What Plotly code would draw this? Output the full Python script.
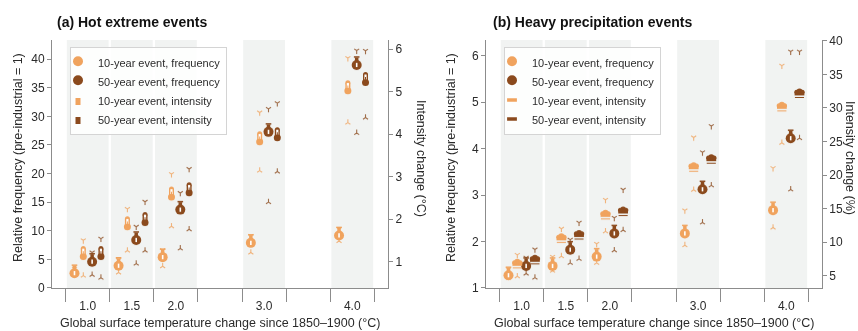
import plotly.graph_objects as go

# ---------------- data ----------------
levels = [1.0, 1.5, 2.0, 3.0, 4.0]
level_labels = ["1.0", "1.5", "2.0", "3.0", "4.0"]

# (a) Hot extremes
hot_f10 = [2.8, 4.1, 5.6, 8.1, 9.4]
hot_f10_lo = [2.3, 2.7, 3.8, 6.2, 8.2]
hot_f10_hi = [3.4, 4.9, 6.6, 9.1, 10.3]
hot_f50 = [4.8, 8.6, 13.9, 27.5, 39.2]
hot_f50_lo = [2.3, 4.25, 6.9, 15.0, 27.1]
hot_f50_hi = [6.2, 10.7, 16.6, 31.3, 41.5]
hot_i10 = [1.2, 1.9, 2.6, 3.9, 5.1]
hot_i10_lo = [0.67, 1.26, 1.83, 3.14, 4.27]
hot_i10_hi = [1.50, 2.24, 3.06, 4.51, 5.79]
hot_i50 = [1.2, 2.0, 2.7, 4.0, 5.3]
hot_i50_lo = [0.62, 1.26, 1.76, 3.12, 4.39]
hot_i50_hi = [1.54, 2.41, 3.18, 4.73, 5.96]

# (b) Heavy precipitation
pr_f10 = [1.3, 1.5, 1.7, 2.2, 2.7]
pr_f10_lo = [1.22, 1.37, 1.54, 1.92, 2.30]
pr_f10_hi = [1.40, 1.67, 1.95, 2.67, 3.58]
pr_f50 = [1.5, 1.85, 2.2, 3.15, 4.25]
pr_f50_lo = [1.31, 1.54, 1.81, 2.41, 3.12]
pr_f50_hi = [1.65, 2.04, 2.51, 3.92, 6.09]
pr_i10 = [6.8, 10.6, 14.1, 21.2, 30.2]
pr_i10_lo = [4.9, 7.9, 11.6, 17.8, 24.8]
pr_i10_hi = [8.1, 12.0, 16.3, 25.6, 36.3]
pr_i50 = [7.4, 11.1, 14.6, 22.4, 32.2]
pr_i50_lo = [4.7, 7.5, 11.8, 18.45, 25.5]
pr_i50_hi = [8.9, 12.9, 17.8, 27.3, 38.4]

names = ["10-year event, frequency", "50-year event, frequency",
         "10-year event, intensity", "50-year event, intensity"]

# ---------------- style ----------------
FONT = "Liberation Sans Narrow, Arial Narrow, Liberation Sans, Arial, sans-serif"
LIGHT = "#F0A35E"
DARK = "#8B4A1D"
BAND = "#F1F3F2"
AXIS = "#8C8C8C"
TEXT = "#2B2B2B"
BAND_HALF = 0.237
OFFSETS = {"f10": -0.15, "i10": -0.05, "f50": 0.05, "i50": 0.15}


def part(symbol, size, color, lw=0, angle=0, standoff=0):
    return dict(symbol=symbol, size=size, color=color, lw=lw, angle=angle, standoff=standoff)


def stopwatch(c):
    return [
        part("circle", 10, c, angle=0, standoff=1.2),
        part("square", 3.5, c, angle=180, standoff=4.5),
        part("line-ew", 4, c, lw=1.5, angle=180, standoff=6.8),
        part("line-ns", 3, "white", lw=1.6, angle=0, standoff=1.2),
    ]


def thermometer(c):
    return [
        part("line-ns", 5, c, lw=5, angle=180, standoff=1),
        part("circle", 5, c, angle=180, standoff=4.5),
        part("circle", 7, c, angle=0, standoff=3.5),
        part("line-ns", 3.5, "white", lw=2.2, angle=180, standoff=2),
        part("line-ns", 2, c, lw=1, angle=180, standoff=0.5),
    ]


def cloud(c):
    return [
        part("line-ew", 7, c, lw=3.5, angle=0, standoff=0.5),
        part("circle", 6, c, angle=180, standoff=1.8),
        part("circle", 4.5, c, angle=110, standoff=3.2),
        part("circle", 4.5, c, angle=250, standoff=3.2),
        part("line-ew", 6.5, c, lw=1, angle=0, standoff=4.3),
    ]


fig = go.Figure()


def add_series(xs, ys, lo, hi, glyph, color, name, xa, ya, legend, rank):
    n = len(xs)
    fig.add_trace(go.Scatter(
        x=list(xs) + list(xs), y=list(hi) + list(lo), mode="markers",
        xaxis=xa, yaxis=ya, showlegend=False, legendgroup=name, legend=legend,
        hoverinfo="skip", opacity=0.8,
        marker=dict(symbol=["y-down"] * n + ["y-up"] * n, size=4.2, color=color,
                    line=dict(color=color, width=1.1))))
    for i, p in enumerate(glyph):
        fig.add_trace(go.Scatter(
            x=xs, y=ys, mode="markers", name=name, xaxis=xa, yaxis=ya,
            showlegend=(i == 0), legendgroup=name, legend=legend, legendrank=rank,
            marker=dict(symbol=p["symbol"], size=p["size"], color=p["color"],
                        angle=p["angle"], standoff=p["standoff"],
                        line=dict(color=p["color"], width=p["lw"]))))


def xs_for(key):
    return [lv + OFFSETS[key] for lv in levels]


# panel (a)
add_series(xs_for("f10"), hot_f10, hot_f10_lo, hot_f10_hi, stopwatch(LIGHT), LIGHT, names[0], "x", "y", "legend", 1)
add_series(xs_for("f50"), hot_f50, hot_f50_lo, hot_f50_hi, stopwatch(DARK), DARK, names[1], "x", "y", "legend", 2)
add_series(xs_for("i10"), hot_i10, hot_i10_lo, hot_i10_hi, thermometer(LIGHT), LIGHT, names[2], "x", "y2", "legend", 3)
add_series(xs_for("i50"), hot_i50, hot_i50_lo, hot_i50_hi, thermometer(DARK), DARK, names[3], "x", "y2", "legend", 4)
# panel (b)
add_series(xs_for("f10"), pr_f10, pr_f10_lo, pr_f10_hi, stopwatch(LIGHT), LIGHT, names[0], "x2", "y3", "legend2", 1)
add_series(xs_for("f50"), pr_f50, pr_f50_lo, pr_f50_hi, stopwatch(DARK), DARK, names[1], "x2", "y3", "legend2", 2)
add_series(xs_for("i10"), pr_i10, pr_i10_lo, pr_i10_hi, cloud(LIGHT), LIGHT, names[2], "x2", "y4", "legend2", 3)
add_series(xs_for("i50"), pr_i50, pr_i50_lo, pr_i50_hi, cloud(DARK), DARK, names[3], "x2", "y4", "legend2", 4)

# bands
for xr, yr in (("x", "y domain"), ("x2", "y3 domain")):
    for lv in levels:
        fig.add_shape(type="rect", xref=xr, yref=yr, x0=lv - BAND_HALF, x1=lv + BAND_HALF,
                      y0=0, y1=1, fillcolor=BAND, line_width=0, layer="below")

edges = sorted(set([lv - 0.25 for lv in levels] + [lv + 0.25 for lv in levels]))

tickfont = dict(family=FONT, size=12, color=TEXT)
xcommon = dict(range=[0.595, 4.405], showline=True, linecolor=AXIS, linewidth=1,
               tickmode="array", tickvals=levels, ticktext=level_labels,
               ticks="outside", ticklen=0, tickcolor="rgba(0,0,0,0)", automargin=False,
               ticklabelstandoff=7, tickfont=tickfont, showgrid=False, zeroline=False,
               minor=dict(tickmode="array", tickvals=edges, ticks="outside", ticklen=13,
                          tickcolor=AXIS, tickwidth=1, showgrid=False))
ycommon = dict(showline=True, linecolor=AXIS, linewidth=1, ticks="outside", ticklen=4,
               tickcolor=AXIS, tickfont=tickfont, showgrid=False, zeroline=False, automargin=False)

leg_common = dict(xanchor="left", yanchor="top", bgcolor="rgba(255,255,255,0.85)",
                  bordercolor="#D4D4D4", borderwidth=1, font=dict(family=FONT, size=11, color=TEXT),
                  indentation=-13, tracegroupgap=0)

YDOM = [0.13, 0.879]
fig.update_layout(
    width=858, height=331, margin=dict(l=0, r=0, t=0, b=0, autoexpand=False),
    paper_bgcolor="white", plot_bgcolor="white",
    font=dict(family=FONT, size=12, color=TEXT),
    xaxis=dict(domain=[0.0606, 0.4522], anchor="y", **xcommon),
    xaxis2=dict(domain=[0.5664, 0.958], anchor="y3", **xcommon),
    yaxis=dict(domain=YDOM, anchor="x", range=[0, 43.35], tickvals=[0, 5, 10, 15, 20, 25, 30, 35, 40], **ycommon),
    yaxis2=dict(overlaying="y", side="right", anchor="x", range=[0.38, 6.215], tickvals=[1, 2, 3, 4, 5, 6], **ycommon),
    yaxis3=dict(domain=YDOM, anchor="x2", range=[1, 6.338], tickvals=[1, 2, 3, 4, 5, 6], **ycommon),
    yaxis4=dict(overlaying="y3", side="right", anchor="x2", range=[3.17, 40.12], tickvals=[5, 10, 15, 20, 25, 30, 35, 40], **ycommon),
    legend=dict(x=70 / 858, y=1 - 47 / 331, **leg_common),
    legend2=dict(x=504 / 858, y=1 - 47 / 331, **leg_common),
    showlegend=True,
)

ann_font = dict(family=FONT, size=12.5, color=TEXT)
title_font = dict(family=FONT, size=14, color="#111")
annotations = [
    dict(text="<b>(a) Hot extreme events</b>", xref="paper", yref="paper", x=55 / 858, y=1 - 21.7 / 331,
         xanchor="left", yanchor="middle", showarrow=False, font=title_font),
    dict(text="<b>(b) Heavy precipitation events</b>", xref="paper", yref="paper", x=491 / 858, y=1 - 21.7 / 331,
         xanchor="left", yanchor="middle", showarrow=False, font=title_font),
    dict(text="Global surface temperature change since 1850–1900 (°C)", xref="x domain", yref="paper",
         x=0.5, y=1 - 323 / 331, xanchor="center", yanchor="middle", showarrow=False, font=ann_font),
    dict(text="Global surface temperature change since 1850–1900 (°C)", xref="x2 domain", yref="paper",
         x=0.5, y=1 - 323 / 331, xanchor="center", yanchor="middle", showarrow=False, font=ann_font),
    dict(text="Relative frequency (pre-industrial = 1)", xref="paper", yref="paper", x=18 / 858, y=1 - 158 / 331,
         xanchor="center", yanchor="middle", textangle=-90, showarrow=False, font=ann_font),
    dict(text="Intensity change (°C)", xref="paper", yref="paper", x=421 / 858, y=1 - 158 / 331,
         xanchor="center", yanchor="middle", textangle=90, showarrow=False, font=ann_font),
    dict(text="Relative frequency (pre-industrial = 1)", xref="paper", yref="paper", x=451 / 858, y=1 - 158 / 331,
         xanchor="center", yanchor="middle", textangle=-90, showarrow=False, font=ann_font),
    dict(text="Intensity change (%)", xref="paper", yref="paper", x=850 / 858, y=1 - 158 / 331,
         xanchor="center", yanchor="middle", textangle=90, showarrow=False, font=ann_font),
]
fig.update_layout(annotations=annotations)

fig.write_html("out.html", config={"displayModeBar": False},
               post_script="document.body.style.margin='0';document.body.style.overflow='hidden';")
